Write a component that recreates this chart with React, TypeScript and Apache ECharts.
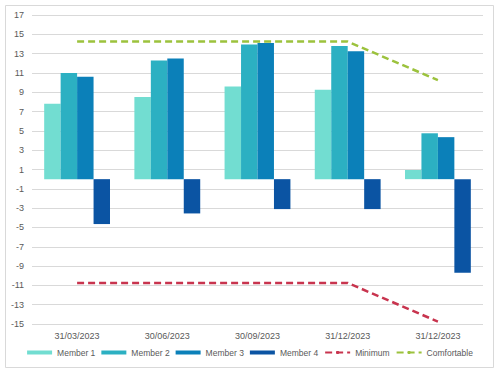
import React, { useEffect, useRef } from "react";
import * as echarts from "echarts";

const categories = ["31/03/2023", "30/06/2023", "30/09/2023", "31/12/2023", "31/12/2023"];
const member1 = [7.8, 8.5, 9.6, 9.25, 0.95];
const member2 = [11.0, 12.3, 13.95, 13.8, 4.75];
const member3 = [10.6, 12.5, 14.1, 13.25, 4.35];
const member4 = [-4.65, -3.55, -3.1, -3.1, -9.7];
const minimum = [-10.75, -10.75, -10.75, -10.75, -14.75];
const comfortable = [14.25, 14.25, 14.25, 14.25, 10.25];

const FONT = "Liberation Sans";

export default function App() {
  const ref = useRef<HTMLDivElement>(null);
  useEffect(() => {
    const chart = echarts.init(ref.current!, undefined, { renderer: "svg" });
    const bar = (name: string, data: number[], color: string) => ({
      name,
      type: "bar",
      data,
      barGap: "0%",
      barCategoryGap: "27%",
      itemStyle: { color },
    });
    const line = (name: string, data: number[], color: string) => ({
      name,
      type: "line",
      data,
      symbol: "none",
      lineStyle: { color, width: 2.5, type: [7, 4] },
      itemStyle: { color },
    });
    chart.setOption({
      animation: false,
      backgroundColor: "#ffffff",
      textStyle: { fontFamily: FONT },
      graphic: [
        {
          type: "rect",
          shape: { x: 5.5, y: 5.5, width: 488, height: 362 },
          style: { fill: "none", stroke: "#d9d9d9", lineWidth: 1 },
          silent: true,
        },
      ],
      grid: { left: 32, right: 17, top: 15, bottom: 46 },
      xAxis: {
        type: "category",
        data: categories,
        axisLine: { show: false },
        axisTick: { show: false },
        axisLabel: { color: "#595959", fontSize: 9, fontFamily: FONT, margin: 7 },
      },
      yAxis: {
        type: "value",
        min: -15,
        max: 17,
        interval: 2,
        axisLine: { show: false },
        axisTick: { show: false },
        axisLabel: { color: "#595959", fontSize: 9, fontFamily: FONT, margin: 8 },
        splitLine: { lineStyle: { color: "#d9d9d9", width: 1 } },
      },
      legend: {
        bottom: 8,
        left: "center",
        itemGap: 6,
        itemWidth: 25,
        itemHeight: 4,
        textStyle: { color: "#595959", fontSize: 8.5, fontFamily: FONT },
        data: [
          { name: "Member 1", icon: "rect" },
          { name: "Member 2", icon: "rect" },
          { name: "Member 3", icon: "rect" },
          { name: "Member 4", icon: "rect" },
          { name: "Minimum" },
          { name: "Comfortable" },
        ],
      },
      series: [
        bar("Member 1", member1, "#72DDD1"),
        bar("Member 2", member2, "#2CB0C2"),
        bar("Member 3", member3, "#0B80B9"),
        bar("Member 4", member4, "#0B54A3"),
        line("Minimum", minimum, "#C8344E"),
        line("Comfortable", comfortable, "#9CC23D"),
      ],
    });
    return () => chart.dispose();
  }, []);
  return (
    <div
      ref={ref}
      style={{ position: "absolute", left: 0, top: 0, width: 500, height: 370 }}
    />
  );
}
